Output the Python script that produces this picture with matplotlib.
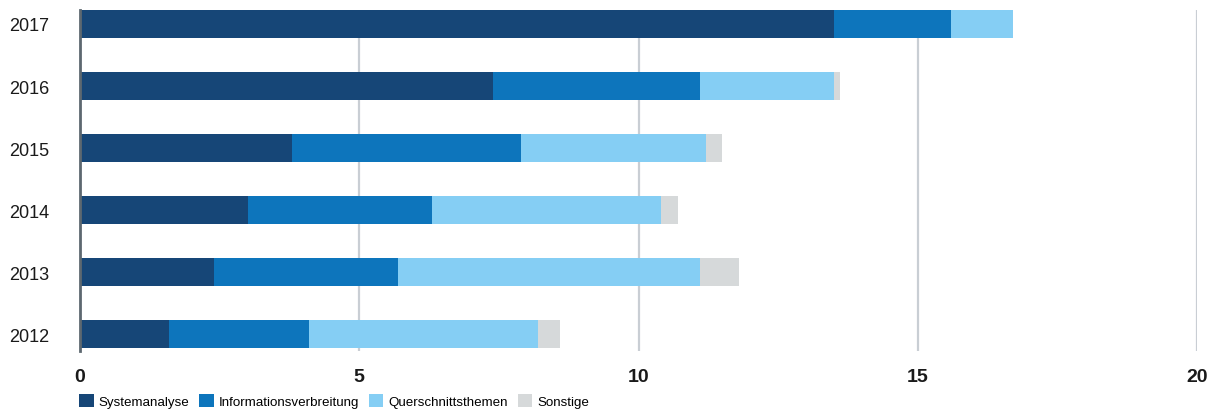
import matplotlib as ml
ml.use('Agg')
import numpy as np
import matplotlib.pyplot as plt
from matplotlib.patches import Patch

plt.rcParams['font.family'] = ['Liberation Sans Narrow', 'Liberation Sans', 'DejaVu Sans']

# Project counts per year, split by topic
years = ['2012', '2013', '2014', '2015', '2016', '2017']
systemanalyse = [1.6, 2.4, 3.0, 3.8, 7.4, 13.5]
informationsverbreitung = [2.5, 3.3, 3.3, 4.1, 3.7, 2.1]
querschnittsthemen = [4.1, 5.4, 4.1, 3.3, 2.4, 1.1]
sonstige = [0.4, 0.7, 0.3, 0.3, 0.1, 0.0]

series_names = ['Systemanalyse', 'Informationsverbreitung', 'Querschnittsthemen', 'Sonstige']
colours = ['#164677', '#0d75bc', '#85cef4', '#d6d9da']

fig = plt.figure(figsize=(12.16, 4.10), dpi=100)
ax = fig.add_axes([80 / 1216, 1 - 352 / 410, 1117 / 1216, 341 / 410])

ypos = np.arange(len(years))
left = np.zeros(len(years))
for vals, col in zip([systemanalyse, informationsverbreitung, querschnittsthemen, sonstige], colours):
    ax.barh(ypos, vals, left=left, height=0.45, color=col, zorder=3, linewidth=0)
    left += np.array(vals)

ax.set_xlim(0, 20)
ax.set_ylim(-0.27, 5.225)
ax.set_xticks([0, 5, 10, 15, 20])
ax.xaxis.grid(True, color='#c9ced4', linewidth=1.6, zorder=0)
ax.set_yticks(ypos)
ax.set_yticklabels(years, fontsize=13, color='#1a1a1a')
ax.set_xticklabels(['0', '5', '10', '15', '20'], fontsize=14, fontweight='bold', color='#1a1a1a')
ax.tick_params(axis='both', length=0)
ax.tick_params(axis='x', pad=12)
ax.tick_params(axis='y', pad=22)
for s in ['top', 'right', 'bottom']:
    ax.spines[s].set_visible(False)
ax.spines['left'].set_color('#5d6870')
ax.spines['left'].set_linewidth(2)
ax.spines['left'].set_zorder(4)

handles = [Patch(facecolor=c, edgecolor='none') for c in colours]
fig.legend(handles, series_names, loc='center left', bbox_to_anchor=(79 / 1216, 1 - 402 / 410),
           ncol=4, frameon=False, fontsize=9.6, handlelength=1.1, handleheight=1.1,
           handletextpad=0.35, columnspacing=0.75, borderaxespad=0, borderpad=0)

fig.savefig('out.png', dpi=100)
